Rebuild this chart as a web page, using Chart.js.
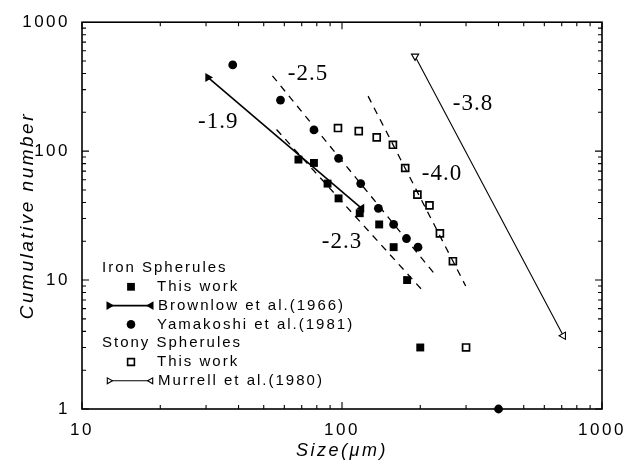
<!DOCTYPE html>
<html>
<head>
<meta charset="utf-8">
<script src="https://cdn.jsdelivr.net/npm/chart.js@4"></script>
<style>
  html, body { margin: 0; padding: 0; background: #fff; }
</style>
</head>
<body>
<canvas id="myChart" width="634" height="465"></canvas>
<script>
// Iron spherules - this work
var ironSizes = [68, 78, 88, 97, 117, 139, 158, 178, 200];
var ironCounts = [86, 81, 56, 43, 33, 27, 18, 10, 3];
// Iron spherules - Yamakoshi et al. (1981)
var yamaSizes = [38, 58, 78, 97, 118, 138, 158, 177, 196, 400];
var yamaCounts = [466, 249, 146, 88, 56, 36, 27, 21, 18, 1];
// Iron spherules - Brownlow et al. (1966), end points of the line
var brownSizes = [30.5, 119];
var brownCounts = [373, 36];
// Stony spherules - this work
var stonySizes = [96.5, 116, 136, 157, 175, 195, 217, 238, 267, 300];
var stonyCounts = [151, 143, 128, 112, 74, 46, 38, 23, 14, 3];
// Stony spherules - Murrell et al. (1980)
var murrellSizes = [191, 710];
var murrellCounts = [545, 3.7];
// dashed power-law fits
var fit25Sizes = [54, 225];
var fit25Counts = [384, 11.4];
var fit23Sizes = [56, 203];
var fit23Counts = [147, 8.4];
var fit40Sizes = [126, 299];
var fit40Counts = [267, 9.0];
// slope labels
var slopeTexts = ['-2.5', '-1.9', '-3.8', '-4.0', '-2.3'];
var slopeSizes = [74, 33.4, 319, 242.5, 100];
var slopeCounts = [400, 169, 232, 67, 19.6];
// tick labels
var xTicks = [10, 100, 1000];
var yTicks = [1, 10, 100, 1000];

function pts(xs, ys) {
  return xs.map(function (x, i) { return { x: x, y: ys[i] }; });
}

function dashed(xs, ys) {
  return {
    data: pts(xs, ys), showLine: true, borderColor: '#000', borderWidth: 1.3,
    borderDash: [7, 6], pointRadius: 0, fill: false
  };
}

// legend rows (drawn by hand, the original has group headers)
var legendRows = [
  { text: 'Iron Spherules', head: true },
  { text: 'This work', marker: 'rect', fill: '#000', r: 5.5 },
  { text: 'Brownlow et al.(1966)', line: true, fill: '#000', lw: 1.6 },
  { text: 'Yamakoshi et al.(1981)', marker: 'circle', fill: '#000', r: 4.3 },
  { text: 'Stony Spherules', head: true },
  { text: 'This work', marker: 'rect', fill: '#fff', r: 4.8, bw: 1.6 },
  { text: 'Murrell et al.(1980)', line: true, fill: '#fff', lw: 1.1, bw: 1.1 }
];

var framePlugin = {
  id: 'frame',
  beforeDraw: function (chart) {
    chart.ctx.letterSpacing = '2.5px';
  },
  beforeDatasetsDraw: function (chart) {
    var ctx = chart.ctx, a = chart.chartArea;
    var xs = chart.scales.x, ys = chart.scales.y;
    ctx.save();
    ctx.letterSpacing = '0px';
    ctx.strokeStyle = '#000';
    ctx.lineWidth = 1.6;
    ctx.strokeRect(a.left, a.top, a.right - a.left, a.bottom - a.top);
    ctx.lineWidth = 1.1;
    ctx.beginPath();
    for (var e = 1; e <= 3; e++) {
      for (var m = 1; m <= 9; m++) {
        var v = m * Math.pow(10, e - 1);
        var len = m === 1 ? 7 : 4;
        // x ticks (10..1000)
        var xv = v * 10;
        if (xv <= 1000) {
          var px = xs.getPixelForValue(xv);
          ctx.moveTo(px, a.bottom); ctx.lineTo(px, a.bottom - len);
          ctx.moveTo(px, a.top); ctx.lineTo(px, a.top + len);
        }
        var py = ys.getPixelForValue(v);
        ctx.moveTo(a.left, py); ctx.lineTo(a.left + len, py);
        ctx.moveTo(a.right, py); ctx.lineTo(a.right - len, py);
      }
    }
    ctx.stroke();
    ctx.restore();
  },
  afterDatasetsDraw: function (chart) {
    var ctx = chart.ctx;
    var xs = chart.scales.x, ys = chart.scales.y;
    var drawPoint = Chart.helpers.drawPoint;
    ctx.save();
    // slope labels
    ctx.fillStyle = '#000';
    ctx.letterSpacing = '1px';
    ctx.font = '23px "Liberation Serif"';
    ctx.textAlign = 'center';
    ctx.textBaseline = 'middle';
    slopeTexts.forEach(function (t, i) {
      ctx.fillText(t, xs.getPixelForValue(slopeSizes[i]), ys.getPixelForValue(slopeCounts[i]));
    });
    // legend
    ctx.font = '15px "Liberation Sans"';
    ctx.letterSpacing = '2px';
    ctx.textAlign = 'left';
    var x0 = 102, y0 = 268, step = 18.8;
    legendRows.forEach(function (row, i) {
      var y = y0 + i * step;
      ctx.fillStyle = '#000';
      ctx.strokeStyle = '#000';
      if (row.head) {
        ctx.fillText(row.text, x0, y);
        return;
      }
      if (row.line) {
        ctx.lineWidth = row.lw;
        ctx.beginPath();
        ctx.moveTo(x0 + 6, y); ctx.lineTo(x0 + 50, y);
        ctx.stroke();
        ctx.fillStyle = row.fill;
        drawPoint(ctx, { pointStyle: 'triangle', radius: 3.4, rotation: 90, borderWidth: row.bw || 1 }, x0 + 7, y);
        drawPoint(ctx, { pointStyle: 'triangle', radius: 3.4, rotation: -90, borderWidth: row.bw || 1 }, x0 + 49, y);
        ctx.fillStyle = '#000';
        ctx.fillText(row.text, x0 + 56, y);
      } else {
        ctx.fillStyle = row.fill;
        ctx.lineWidth = row.bw || 1;
        drawPoint(ctx, { pointStyle: row.marker, radius: row.r, rotation: 0, borderWidth: row.bw || 0 }, x0 + 29, y);
        ctx.fillStyle = '#000';
        ctx.fillText(row.text, x0 + 55, y);
      }
    });
    ctx.restore();
  }
};

var ctx = document.getElementById('myChart').getContext('2d');
var chart = new Chart(ctx, {
  type: 'scatter',
  data: {
    datasets: [
      dashed(fit25Sizes, fit25Counts),
      dashed(fit23Sizes, fit23Counts),
      dashed(fit40Sizes, fit40Counts),
      {
        data: pts(brownSizes, brownCounts), showLine: true, borderColor: '#000', borderWidth: 1.6,
        pointStyle: 'triangle', pointRadius: 3.6, pointRotation: [90, -90],
        pointBackgroundColor: '#000', pointBorderColor: '#000'
      },
      {
        data: pts(murrellSizes, murrellCounts), showLine: true, borderColor: '#000', borderWidth: 1.1,
        pointStyle: 'triangle', pointRadius: 4.2, pointRotation: [180, -90],
        pointBackgroundColor: '#fff', pointBorderColor: '#000', pointBorderWidth: 1.1
      },
      {
        data: pts(ironSizes, ironCounts), pointStyle: 'rect', pointRadius: 5.6,
        pointBackgroundColor: '#000', pointBorderColor: '#000', pointBorderWidth: 0, clip: false
      },
      {
        data: pts(yamaSizes, yamaCounts), pointStyle: 'circle', pointRadius: 4.4,
        pointBackgroundColor: '#000', pointBorderColor: '#000', pointBorderWidth: 0, clip: false
      },
      {
        data: pts(stonySizes, stonyCounts), pointStyle: 'rect', pointRadius: 4.9,
        pointBackgroundColor: '#fff', pointBorderColor: '#000', pointBorderWidth: 1.7, clip: false
      }
    ]
  },
  options: {
    responsive: false,
    animation: false,
    events: [],
    layout: { padding: { top: 15, right: 32, left: 0, bottom: 0 } },
    plugins: { legend: { display: false }, tooltip: { enabled: false } },
    scales: {
      x: {
        type: 'logarithmic', min: 10, max: 1000,
        afterBuildTicks: function (s) { s.ticks = xTicks.map(function (v) { return { value: v }; }); },
        afterFit: function (s) { s.height = 56; },
        grid: { display: false, drawTicks: false },
        border: { display: false },
        ticks: {
          color: '#000', padding: 11, maxRotation: 0, autoSkip: false,
          font: { family: 'Liberation Sans', size: 17 },
          callback: function (v) { return String(v); }
        },
        title: {
          display: true, text: 'Size(μm)', color: '#000',
          font: { family: 'Liberation Sans', size: 18, style: 'italic' },
          padding: { top: 0, bottom: 3 }
        }
      },
      y: {
        type: 'logarithmic', min: 1, max: 1000,
        afterBuildTicks: function (s) { s.ticks = yTicks.map(function (v) { return { value: v }; }); },
        afterFit: function (s) { s.width = 82; },
        grid: { display: false, drawTicks: false },
        border: { display: false },
        ticks: {
          color: '#000', padding: 12, autoSkip: false,
          font: { family: 'Liberation Sans', size: 17 },
          callback: function (v) { return String(v); }
        },
        title: {
          display: true, text: 'Cumulative number', color: '#000',
          font: { family: 'Liberation Sans', size: 19, style: 'italic' },
          padding: { top: 16, bottom: 0 }
        }
      }
    }
  },
  plugins: [framePlugin]
});
</script>
</body>
</html>
